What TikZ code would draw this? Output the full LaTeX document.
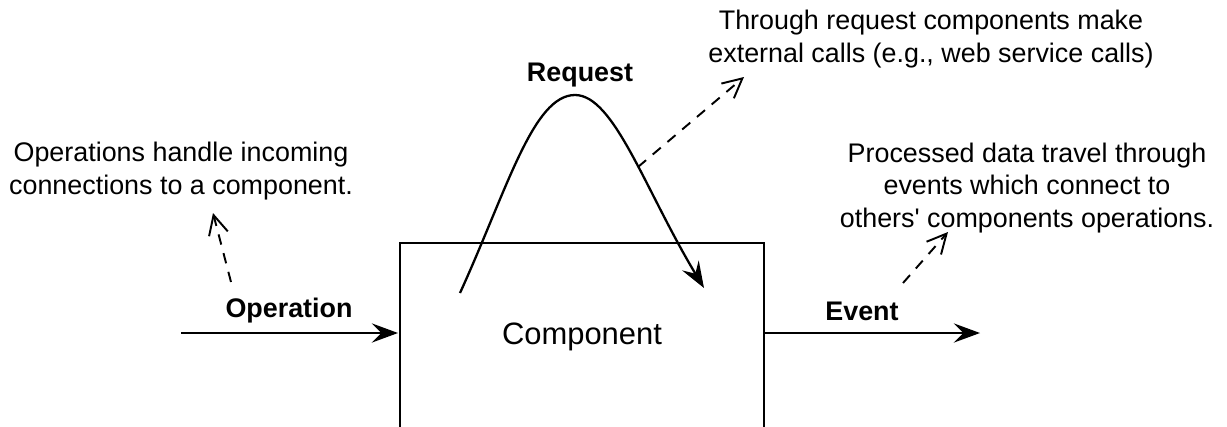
\documentclass[tikz,border=0pt]{standalone}
\usepackage{fontspec}
\setmainfont{Liberation Sans}[Ligatures=TeXOff]
\usetikzlibrary{arrows.meta}
\tikzset{
  note/.style={align=center, font=\fontsize{15.3}{18.7}\selectfont},
  lbl/.style={font=\fontsize{15.3}{18.7}\selectfont\bfseries},
  flow/.style={line width=1.3pt, -{Stealth[length=15pt,width=11pt,inset=5.5pt]}},
  hint/.style={line width=1.1pt, dash pattern=on 6pt off 5pt, -{Straight Barb[length=11pt,width=11pt]}},
}
\begin{document}
\begin{tikzpicture}[x=0.02cm,y=-0.02cm]
    \useasboundingbox (0,0) rectangle (1227,426);
    \node[draw, line width=1.3pt, minimum width=7.28cm, minimum height=3.74cm,
          font=\fontsize{17.6}{21}\selectfont] (comp) at (582,336.5) {Component};

    \node[note] (opnote) at (181,171) {Operations handle incoming\\connections to a component.};
    \node[note] (reqnote) at (931,39) {Through request components make\\external calls (e.g., web service calls)};
    \node[note] (evnote) at (1027,188) {Processed data travel through\\events which connect to\\others' components operations.};

    \node[lbl] (oplbl) at (289,311) {Operation};
    \node[lbl] (reqlbl) at (580,75) {Request};
    \node[lbl] (evlbl) at (862,311) {Event};

    \coordinate (opin) at (181,333);
    \coordinate (opout) at (398,333);
    \coordinate (evin) at (764,333);
    \coordinate (evout) at (980,333);
    \coordinate (reqa) at (460,293);
    \coordinate (reqtop) at (575,95);
    \coordinate (reqb) at (704,288);

    \draw[flow] (opin) -- (opout);
    \draw[flow] (evin) -- (evout);
    \draw[flow] (reqa) .. controls (507,190) and (533,95) .. (reqtop)
        .. controls (614,95) and (645,190) .. (reqb);

    % dashed hints to the notes
    \coordinate (ophint) at (231,282);
    \coordinate (optip) at (213,213);
    \coordinate (reqhint) at (638,167);
    \coordinate (reqtip) at (744,77);
    \coordinate (evhint) at (903,283);
    \coordinate (evtip) at (948,232);
    \draw[hint] (ophint) -- (optip);
    \draw[hint] (reqhint) -- (reqtip);
    \draw[hint] (evhint) -- (evtip);
\end{tikzpicture}
\end{document}
